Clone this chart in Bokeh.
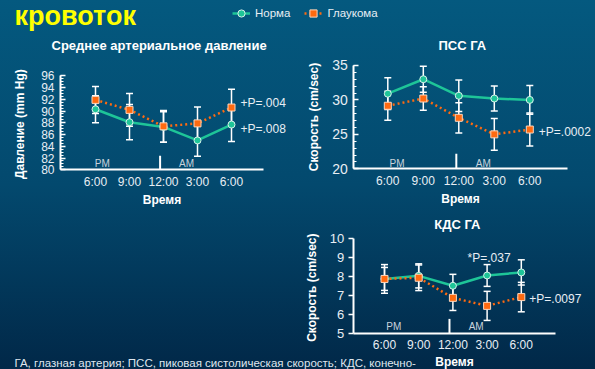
from bokeh.plotting import figure
from bokeh.models import (Range1d, Label, Legend, LegendItem, ColumnDataSource, Whisker,
                          TeeHead, SingleIntervalTicker, FixedTicker, GlobalInlineStyleSheet)
from bokeh.layouts import column, row
from bokeh.embed import file_html
from bokeh.resources import INLINE

# ---------------- data ----------------
times = ["6:00", "9:00", "12:00", "3:00", "6:00"]
idx = [0, 1, 2, 3, 4]

map_norm = [90.3, 88.1, 87.3, 85.0, 87.7]
map_norm_err = [2.3, 3.0, 2.6, 2.7, 2.9]
map_glau = [91.9, 90.2, 87.4, 87.9, 90.6]
map_glau_err = [2.3, 2.8, 2.7, 2.8, 3.1]

psv_norm = [30.9, 33.0, 30.6, 30.2, 30.0]
psv_norm_err = [2.3, 1.9, 2.3, 1.8, 2.1]
psv_glau = [29.15, 30.2, 27.4, 25.0, 25.7]
psv_glau_err = [2.1, 1.7, 2.2, 2.3, 2.4]

edv_norm = [7.87, 8.03, 7.51, 8.05, 8.21]
edv_norm_err = [0.75, 0.63, 0.60, 0.57, 0.66]
edv_glau = [7.87, 7.93, 6.88, 6.46, 6.92]
edv_glau_err = [0.60, 0.67, 0.66, 0.76, 0.77]

GREEN = "#1ec598"
ORANGE = "#ff6a10"
TXT = "#e8eef4"
FONT = "Liberation Sans"
NAN = float("nan")

css = GlobalInlineStyleSheet(css="""
html, body { margin:0 !important; padding:0 !important; overflow:hidden;
  background: linear-gradient(to bottom, #04597f 0%, #03496e 50%, #012848 100%) !important;
  min-height:100%; }
""")


def make_fig(left, top, w, h, x0px, sx, yval, ypx, sy):
    """Figure whose frame fills the whole canvas; value 0 at page x0px (sx px/unit),
    value yval at page ypx (sy px/unit)."""
    xr = Range1d((left - x0px) / sx, (left + w - x0px) / sx)
    yr = Range1d(yval - (top + h - ypx) / sy, yval + (ypx - top) / sy)
    p = figure(width=w, height=h, x_range=xr, y_range=yr, toolbar_location=None,
               output_backend="svg", min_border=0)
    p.background_fill_color = None
    p.border_fill_color = None
    p.outline_line_color = None
    p.grid.visible = False
    return p


def style_axes(p, xpos, ybounds, xend, ylabel, ytick_size, ylab_standoff, xlab_standoff=1):
    for ax in (p.xaxis[0], p.yaxis[0]):
        ax.axis_line_color = "white"
        ax.axis_line_width = 2
        ax.major_label_text_color = TXT
        ax.major_label_text_font = FONT
        ax.axis_label_text_color = "white"
        ax.axis_label_text_font = FONT
        ax.axis_label_text_font_style = "bold"
        ax.axis_label_text_font_size = "12px"
        ax.major_tick_line_color = "white"
        ax.major_tick_line_width = 1.5
        ax.minor_tick_line_color = "white"
    xa = p.xaxis[0]
    xa.fixed_location = ybounds[0]
    xa.bounds = (xpos, xend)
    xa.ticker = FixedTicker(ticks=idx)
    xa.major_label_overrides = {i: t for i, t in zip(idx, times)}
    xa.major_tick_line_color = None
    xa.major_tick_in = 0
    xa.major_tick_out = 0
    xa.minor_tick_line_color = None
    xa.major_label_text_font_size = "12px"
    xa.major_label_standoff = 5
    xa.axis_label = "Время"
    xa.axis_label_standoff = xlab_standoff
    ya = p.yaxis[0]
    ya.fixed_location = xpos
    ya.bounds = ybounds
    ya.axis_label = ylabel
    ya.major_label_text_font_size = ytick_size
    ya.axis_label_standoff = ylab_standoff


def add_series(p, norm, nerr, glau, gerr):
    for vals, errs in ((norm, nerr), (glau, gerr)):
        src = ColumnDataSource(dict(x=idx, lo=[v - e for v, e in zip(vals, errs)],
                                    hi=[v + e for v, e in zip(vals, errs)]))
        w = Whisker(source=src, base="x", lower="lo", upper="hi", line_color="white",
                    line_width=1.5,
                    upper_head=TeeHead(size=7, line_color="white", line_width=1.5),
                    lower_head=TeeHead(size=7, line_color="white", line_width=1.5))
        p.add_layout(w)
    p.line(idx, norm, line_color=GREEN, line_width=2.5)
    p.scatter(idx, norm, marker="circle", size=7, fill_color=GREEN,
              line_color="#d9f3ec", line_width=1)
    p.line(idx, glau, line_color=ORANGE, line_width=2.5, line_dash="2 3")
    p.scatter(idx, glau, marker="square", size=7, fill_color=ORANGE,
              line_color="#fbd6bd", line_width=1)


def add_ampm(p, div_x, div_top, y0, lab_y, pm_x, am_x):
    p.segment(x0=[div_x], y0=[y0], x1=[div_x], y1=[div_top], line_color="white", line_width=2)
    for x, t in ((pm_x, "PM"), (am_x, "AM")):
        p.add_layout(Label(x=x, y=lab_y, text=t, text_font=FONT, text_font_size="10px",
                           text_color="#c9d3dc", text_baseline="middle", text_align="center"))


def label(p, x, y, text, size="12px", bold=False, align="left", xoff=0, color=TXT):
    p.add_layout(Label(x=x, y=y, x_offset=xoff, text=text, text_font=FONT, text_font_size=size,
                       text_font_style="bold" if bold else "normal", text_color=color,
                       text_baseline="middle", text_align=align))


# ---------------- header ----------------
H = figure(width=595, height=35, x_range=Range1d(0, 595), y_range=Range1d(35, 0),
           toolbar_location=None, output_backend="svg", min_border=0)
H.axis.visible = False
H.grid.visible = False
H.background_fill_color = None
H.border_fill_color = None
H.outline_line_color = None
H.add_layout(Label(x=14, y=15, text="кровоток", text_font=FONT, text_font_size="27px",
                   text_font_style="bold", text_color="#ffff00", text_baseline="alphabetic"))
# legend proxies (NaN coordinates: nothing drawn in the plot area)
ln = H.line(x=[NAN, NAN], y=[NAN, NAN], line_color=GREEN, line_width=2.5)
pn = H.scatter(x=[NAN], y=[NAN], marker="circle", size=7, fill_color=GREEN, line_color="#d9f3ec")
lg = H.line(x=[NAN, NAN], y=[NAN, NAN], line_color=ORANGE, line_width=2.5, line_dash="2 3")
pg = H.scatter(x=[NAN], y=[NAN], marker="square", size=7, fill_color=ORANGE, line_color="#fbd6bd")
leg = Legend(items=[LegendItem(label="Норма", renderers=[ln, pn]),
                    LegendItem(label="Глаукома", renderers=[lg, pg])],
             orientation="horizontal", location=(232, 12), padding=0, margin=0,
             spacing=14, glyph_width=18, label_standoff=5,
             label_text_font=FONT, label_text_font_size="11.5px", label_text_color=TXT,
             background_fill_alpha=0, border_line_alpha=0)
H.add_layout(leg)

# ---------------- chart 1: MAP ----------------
p1 = make_fig(0, 35, 300, 175, 95, 34, 80, 169.3, 5.875)
style_axes(p1, -1.03, (80, 96), 4.94, "Давление  (mm Hg)", "12px", 11)
p1.yaxis[0].ticker = SingleIntervalTicker(interval=2, num_minor_ticks=4)
p1.yaxis[0].major_tick_in = 5
p1.yaxis[0].major_tick_out = 0
p1.yaxis[0].minor_tick_in = 3
p1.yaxis[0].minor_tick_out = 0
p1.yaxis[0].major_label_standoff = 6
add_series(p1, map_norm, map_norm_err, map_glau, map_glau_err)
add_ampm(p1, 1.9, 82.4, 80, 81.1, 0.2, 2.68)
label(p1, 1.87, 101.2, "Среднее артериальное давление", size="13px", bold=True,
      align="center", color="white")
label(p1, 4, 91.3, "+P=.004", xoff=9)
label(p1, 4, 86.86, "+P=.008", xoff=9)

# ---------------- chart 2: PSV ----------------
p2 = make_fig(300, 35, 295, 175, 387.3, 35.5, 20, 168.3, 6.89)
style_axes(p2, -0.958, (20, 35), 5.06, "Скорость (cm/sec)", "14px", 8)
p2.yaxis[0].ticker = SingleIntervalTicker(interval=5, num_minor_ticks=5)
p2.yaxis[0].major_tick_in = 5
p2.yaxis[0].major_tick_out = 0
p2.yaxis[0].minor_tick_in = 3
p2.yaxis[0].minor_tick_out = 0
p2.yaxis[0].major_label_standoff = 6
add_series(p2, psv_norm, psv_norm_err, psv_glau, psv_glau_err)
add_ampm(p2, 1.93, 22.2, 20, 20.73, 0.26, 2.69)
label(p2, 2.1, 37.9, "ПСС ГА", size="13px", bold=True, align="center", color="white")
label(p2, 4, 25.3, "+P=.0002", xoff=9)

# ---------------- chart 3: EDV ----------------
p3 = make_fig(0, 210, 595, 159, 384, 34.2, 5, 333.3, 19.12)
style_axes(p3, -0.915, (5, 10), 5.0, "Скорость  (cm/sec)", "13px", 8, xlab_standoff=0)
p3.xaxis[0].major_label_standoff = 4
p3.yaxis[0].ticker = SingleIntervalTicker(interval=1, num_minor_ticks=0)
p3.yaxis[0].major_tick_in = 0
p3.yaxis[0].major_tick_out = 5
p3.yaxis[0].minor_tick_line_color = None
p3.yaxis[0].major_label_standoff = 4
add_series(p3, edv_norm, edv_norm_err, edv_glau, edv_glau_err)
add_ampm(p3, 1.9, 5.78, 5, 5.38, 0.27, 2.68)
label(p3, 2.13, 10.72, "КДС ГА", size="13px", bold=True, align="center", color="white")
label(p3, 2.43, 8.97, "*P=.037")
label(p3, 4, 6.83, "+P=.0097", xoff=8)
p3.add_layout(Label(x=-10.82, y=3.46,
                    text="ГА, глазная артерия; ПСС, пиковая систолическая скорость; КДС, конечно-",
                    text_font=FONT, text_font_size="11.5px", text_color="#dfe6ee",
                    text_baseline="alphabetic", text_align="left"))

layout = column(H, row(p1, p2), p3)
layout.stylesheets = [css]

open("out.html", "w").write(file_html(layout, INLINE))
